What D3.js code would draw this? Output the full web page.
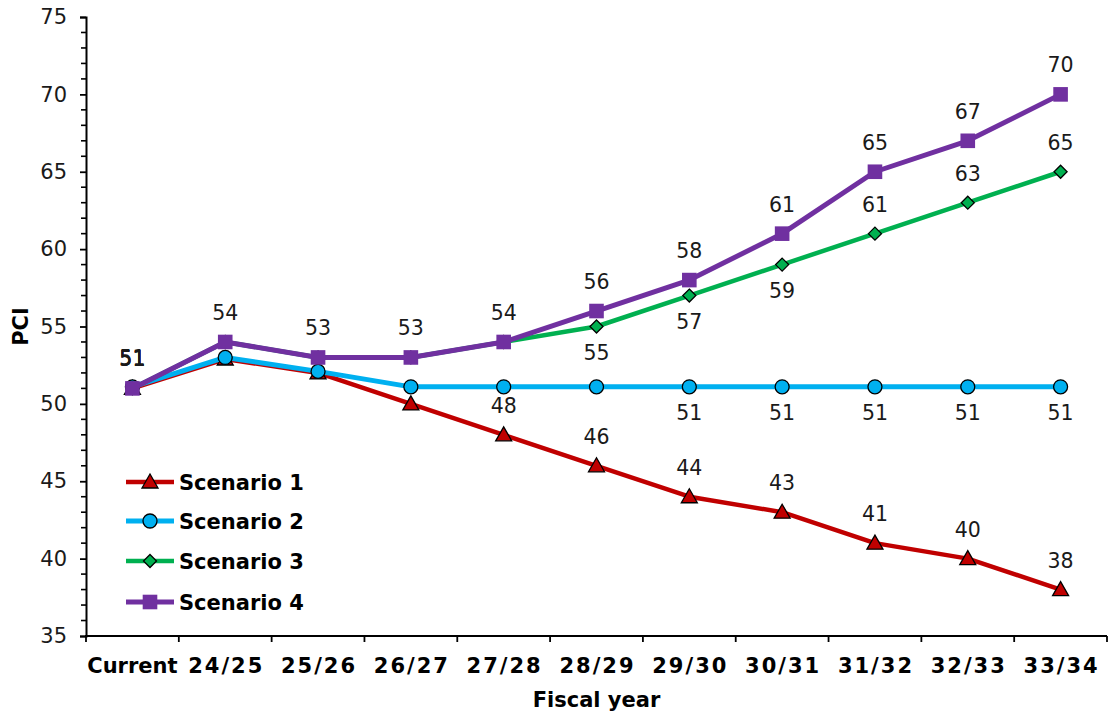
<!DOCTYPE html>
<html>
<head>
<meta charset="utf-8">
<script src="https://cdn.jsdelivr.net/npm/d3@7/dist/d3.min.js"></script>
<style>
  html, body { margin: 0; padding: 0; background: #fff; }
  svg { display: block; font-family: "DejaVu Sans", Verdana, sans-serif; }
</style>
</head>
<body>
<svg id="chart" width="1108" height="717"></svg>
<script>
// ---- Data ----
const categories = ["Current", "24/25", "25/26", "26/27", "27/28", "28/29", "29/30", "30/31", "31/32", "32/33", "33/34"];
const seriesNames = ["Scenario 1", "Scenario 2", "Scenario 3", "Scenario 4"];
const scenario1 = [51, 52.9, 52, 50, 48, 46, 44, 43, 41, 40, 38];
const scenario2 = [51.1, 53, 52.1, 51.1, 51.1, 51.1, 51.1, 51.1, 51.1, 51.1, 51.1];
const scenario3 = [51, 54, 53, 53, 54, 55, 57, 59, 61, 63, 65];
const scenario4 = [51, 54, 53, 53, 54, 56, 58, 61, 65, 67, 70];
// label placement per point: "a" above, "b" below, "" none
const labels1 = ["a", "", "", "", "a", "a", "a", "a", "a", "a", "a"];
const labels2 = ["a", "", "", "", "", "", "b", "b", "b", "b", "b"];
const labels3 = ["a", "", "", "", "", "b", "b", "b", "a", "a", "a"];
const labels4 = ["a", "a", "a", "a", "a", "a", "a", "a", "a", "a", "a"];
const yTicks = [35, 40, 45, 50, 55, 60, 65, 70, 75];

// ---- Styles ----
const styles = [
  { color: "#C00000", width: 4.5, marker: "triangle", values: scenario1, labels: labels1 },
  { color: "#00B0F0", width: 5, marker: "circle", values: scenario2, labels: labels2 },
  { color: "#00B050", width: 4.5, marker: "diamond", values: scenario3, labels: labels3 },
  { color: "#7030A0", width: 5, marker: "square", values: scenario4, labels: labels4 }
];

const svg = d3.select("#chart");
const plot = { left: 86, right: 1107, top: 17, bottom: 636 };

const x = d3.scaleBand().domain(categories).range([plot.left, plot.right]).padding(0);
const y = d3.scaleLinear().domain([35, 75]).range([plot.bottom, plot.top]);
const cx = c => x(c) + x.bandwidth() / 2;

// ---- Axes ----
const minorTicks = d3.range(35, 76, 1).filter(v => v % 5 !== 0);
svg.append("g").selectAll("line").data(minorTicks).join("line")
  .attr("x1", plot.left - 5).attr("x2", plot.left)
  .attr("y1", d => y(d)).attr("y2", d => y(d))
  .attr("stroke", "#000").attr("stroke-width", 1.6);

const yAxis = svg.append("g").attr("transform", `translate(${plot.left},0)`)
  .call(d3.axisLeft(y).tickValues(yTicks).tickSize(6).tickPadding(13).tickFormat(d3.format("d")));
yAxis.select(".domain").attr("stroke", "#000").attr("stroke-width", 2);
yAxis.selectAll(".tick line").attr("stroke", "#000").attr("stroke-width", 1.8);
yAxis.selectAll(".tick text").attr("font-size", 21).attr("fill", "#1a1a1a")
  .attr("font-family", "DejaVu Sans, Verdana, sans-serif");

const xAxisG = svg.append("g");
xAxisG.append("line")
  .attr("x1", plot.left - 1).attr("x2", plot.right)
  .attr("y1", plot.bottom).attr("y2", plot.bottom)
  .attr("stroke", "#000").attr("stroke-width", 2);
const boundaries = categories.map(c => x(c)).concat([plot.right]);
xAxisG.selectAll("line.b").data(boundaries).join("line").attr("class", "b")
  .attr("x1", d => d).attr("x2", d => d)
  .attr("y1", plot.bottom).attr("y2", plot.bottom + 6)
  .attr("stroke", "#000").attr("stroke-width", 1.8);
xAxisG.selectAll("text").data(categories).join("text")
  .attr("x", d => cx(d) + (d.includes("/") ? 1 : 0)).attr("y", 673)
  .attr("text-anchor", "middle")
  .attr("letter-spacing", d => d.includes("/") ? "2px" : "0px")
  .attr("font-size", 21).attr("font-weight", "bold").attr("fill", "#000")
  .text(d => d);

svg.append("text").attr("x", (plot.left + plot.right) / 2).attr("y", 707)
  .attr("text-anchor", "middle").attr("font-size", 21).attr("font-weight", "bold")
  .text("Fiscal year");
svg.append("text").attr("transform", `translate(28, ${(plot.top + plot.bottom) / 2}) rotate(-90)`)
  .attr("text-anchor", "middle").attr("font-size", 21).attr("font-weight", "bold")
  .text("PCI");

// ---- markers ----
function drawMarker(g, type, px, py, color) {
  if (type === "triangle") {
    const s = 8;
    g.append("path")
      .attr("d", `M${px},${py - s} L${px + s},${py + 6} L${px - s},${py + 6} Z`)
      .attr("fill", color).attr("stroke", "#000").attr("stroke-width", 1.3);
  } else if (type === "circle") {
    g.append("circle").attr("cx", px).attr("cy", py).attr("r", 7)
      .attr("fill", color).attr("stroke", "#000").attr("stroke-width", 1.3);
  } else if (type === "diamond") {
    const s = 6.5;
    g.append("path")
      .attr("d", `M${px},${py - s} L${px + s},${py} L${px},${py + s} L${px - s},${py} Z`)
      .attr("fill", color).attr("stroke", "#000").attr("stroke-width", 1.3);
  } else if (type === "square") {
    const s = 7.3;
    g.append("rect").attr("x", px - s).attr("y", py - s).attr("width", 2 * s).attr("height", 2 * s)
      .attr("fill", color);
  }
}

// ---- series ----
const line = d3.line().x((d, i) => cx(categories[i])).y(d => y(d));
styles.forEach(s => {
  const g = svg.append("g");
  g.append("path").datum(s.values)
    .attr("d", line).attr("fill", "none")
    .attr("stroke", s.color).attr("stroke-width", s.width)
    .attr("stroke-linejoin", "round");
  s.values.forEach((v, i) => drawMarker(g, s.marker, cx(categories[i]), y(v), s.color));
});

// ---- data labels ----
const labelG = svg.append("g");
styles.forEach(s => {
  s.values.forEach((v, i) => {
    const pos = s.labels[i];
    if (!pos) return;
    const px = cx(categories[i]);
    const py = y(v);
    labelG.append("text")
      .attr("x", px).attr("y", pos === "a" ? py - 22 : py + 33)
      .attr("text-anchor", "middle").attr("font-size", 20.5).attr("fill", "#1a1a1a")
      .text(d3.format("d")(Math.round(v)));
  });
});

// ---- legend ----
const legendY = [482, 521, 561, 602];
const legend = svg.append("g");
styles.forEach((s, i) => {
  const ly = legendY[i];
  legend.append("line").attr("x1", 126).attr("x2", 174).attr("y1", ly).attr("y2", ly)
    .attr("stroke", s.color).attr("stroke-width", s.width);
  drawMarker(legend, s.marker, 150, ly, s.color);
  legend.append("text").attr("x", 179).attr("y", ly).attr("dy", "0.36em")
    .attr("font-size", 21).attr("font-weight", "bold").attr("fill", "#000")
    .text(seriesNames[i]);
});
</script>
</body>
</html>
